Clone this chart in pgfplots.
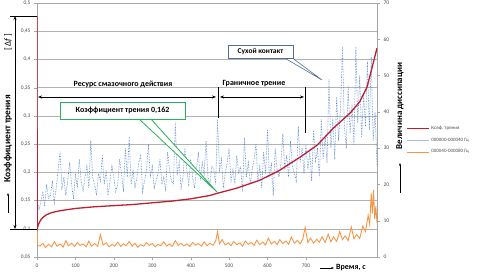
\documentclass[border=0pt]{standalone}
\usepackage{pgfplots}
\pgfplotsset{compat=1.18}
\usepackage{fontspec}
\setmainfont{Carlito}
\usetikzlibrary{arrows.meta}
\definecolor{redc}{RGB}{190,30,50}
\definecolor{bluec}{RGB}{75,125,200}
\definecolor{orangec}{RGB}{247,150,70}
\definecolor{greenc}{RGB}{40,175,90}
\definecolor{boxc}{RGB}{85,110,150}
\pgfplotsset{base/.style={at={(37bp,16bp)}, anchor=south west, scale only axis,
  width=340bp, height=254bp, xmin=0, xmax=885,
  /pgf/number format/assume math mode=true,
  ticklabel style={font=\fontsize{5.5}{6}\selectfont, text=black!70}}}
\begin{document}
\begin{tikzpicture}
\path[use as bounding box] (0,0) rectangle (483bp,273bp);
% axis 1: grid, left and bottom ticks
\begin{axis}[base, ymin=0.05, ymax=0.5,
  ytick={0.05,0.1,0.15,0.2,0.25,0.3,0.35,0.4,0.45,0.5},
  xtick={0,100,200,300,400,500,600,700},
  ymajorgrids, grid style={black!30, line width=0.5pt},
  axis line style={black!35}, tick style={black!35},
  tick align=outside, major tick length=3bp, tick pos=left,
  yticklabel style={/pgf/number format/.cd, use comma, fixed, precision=2}]
\addplot[draw=none] coordinates {(0,0.1)};
\end{axis}
% axis 2: right axis, dissipation
\begin{axis}[base, ymin=0, ymax=70, ytick={0,10,20,30,40,50,60,70},
  axis y line*=right, axis x line=none,
  axis line style={black!35}, tick style={black!35},
  tick align=outside, major tick length=3bp]
\addplot[bluec, line width=0.6pt, densely dotted] coordinates {
(0,16)(5,13)(10,15)(15,18)(20,14)(25,20)(30,16)(35,17)(40,21)(45,15)(50,19)(55,24)(60,29)(65,19)(70,22)(75,17)(80,21)(85,26)(90,20)(95,16)
(100,23)(105,19)(110,27)(115,21)(120,18)(125,22)(130,25)(135,19)(140,32)(145,22)(150,20)(155,17)(160,23)(165,21)(170,28)(175,20)(180,24)(185,17)(190,21)(195,25)
(200,22)(205,18)(210,20)(215,27)(220,23)(225,18)(230,30)(235,22)(240,33)(245,20)(250,24)(255,19)(260,22)(265,26)(270,28)(275,18)(280,21)(285,24)(290,31)(295,22)
(300,25)(305,19)(310,21)(315,23)(320,27)(325,20)(330,22)(335,18)(340,29)(345,24)(350,21)(355,20)(360,37)(365,23)(370,26)(375,19)(380,22)(385,30)(390,24)(395,20)
(400,27)(405,22)(410,19)(415,24)(420,29)(425,21)(430,26)(435,23)(440,32)(445,22)(450,20)(455,25)(460,24)(465,20)(470,38)(475,24)(480,27)(485,19)(490,23)(495,26)
(500,30)(505,21)(510,24)(515,20)(520,28)(525,23)(530,25)(535,18)(540,33)(545,22)(550,26)(555,20)(560,24)(565,27)(570,31)(575,21)(580,25)(585,19)(590,29)(595,23)
(600,35)(605,22)(610,26)(615,17)(620,30)(625,24)(630,22)(635,26)(640,34)(645,24)(650,28)(655,22)(660,32)(665,25)(670,23)(675,21)(680,36)(685,26)(690,30)(695,23)
(700,31)(705,24)(710,29)(715,21)(720,35)(725,26)(730,30)(735,22)(740,38)(745,27)(750,33)(755,26)(760,49)(765,30)(770,38)(775,27)(780,44)(785,32)(790,41)(795,58)
(800,36)(805,30)(810,47)(815,34)(820,42)(825,31)(830,58)(835,37)(840,50)(845,33)(850,45)(855,36)(860,54)(865,35)(870,55)(875,32)(880,40)(885,25)};
\addplot[orangec, line width=0.9pt] coordinates {
(0,7.5)(2,3.2)(8,3.0)(15,3.8)(22,2.6)(30,3.5)(38,2.8)(45,4.2)(52,3.0)(60,3.6)(68,2.7)(75,4.5)(82,3.1)(90,3.8)(98,2.9)
(105,4.0)(112,3.2)(120,3.6)(128,2.8)(135,4.4)(142,3.0)(150,3.7)(158,2.9)(165,6.2)(172,3.3)(180,3.9)(188,2.8)(195,3.5)
(202,3.0)(210,4.1)(218,2.9)(225,3.6)(232,3.1)(240,4.3)(248,3.0)(255,3.8)(262,2.7)(270,3.4)(278,3.0)(285,4.0)(292,3.2)
(300,3.7)(308,2.8)(315,3.5)(322,3.1)(330,4.2)(338,3.0)(345,3.6)(352,2.9)(360,4.5)(368,3.2)(375,3.8)(382,3.0)(390,3.6)(398,2.9)
(405,4.0)(412,3.3)(420,3.7)(428,3.0)(435,4.2)(442,3.1)(450,3.8)(458,3.2)(465,4.4)(470,7.0)(475,3.6)(482,4.8)(490,3.3)(498,3.9)
(505,3.1)(512,4.3)(520,3.4)(528,3.9)(535,3.0)(542,4.4)(550,3.5)(558,4.0)(565,3.2)(572,4.6)(580,3.4)(588,4.1)(595,3.3)
(602,5.2)(610,3.6)(618,4.3)(625,3.4)(632,4.8)(640,3.7)(648,4.4)(655,3.5)(662,5.5)(670,3.8)(678,4.6)(685,3.6)(692,5.0)(698,8.2)
(705,4.0)(712,5.2)(720,3.8)(728,4.9)(735,4.1)(742,5.6)(750,4.0)(758,6.3)(765,4.2)(772,5.5)(780,4.3)(788,7.0)(795,4.8)
(802,5.8)(810,4.5)(818,8.3)(825,5.0)(832,6.2)(840,5.1)(848,8.5)(855,7.0)(862,11.5)(866,9.0)(870,17.5)(873,12.0)(876,18.5)(879,10.5)(882,14.0)(885,9.4)};
\end{axis}
% axis 3: friction coefficient and legend
\begin{axis}[base, ymin=0.05, ymax=0.5, hide axis,
  legend style={at={(1.085,0.46)}, anchor=west, draw=none, fill=none,
    font=\fontsize{5}{6}\selectfont, text=black!70, row sep=3bp,
    inner sep=0pt, cells={anchor=west}},
  legend image code/.code={\draw[#1] (0bp,0bp) -- (22bp,0bp);}]
\addplot[redc, line width=1.3pt] coordinates {
(0,0.477)(0.5,0.10)(3,0.106)(6,0.111)(10,0.116)(15,0.12)(25,0.125)(40,0.129)(60,0.132)(100,0.136)(150,0.139)(200,0.141)
(250,0.143)(300,0.146)(350,0.149)(400,0.153)(450,0.159)(470,0.163)(520,0.172)(580,0.186)(630,0.203)(685,0.227)(729,0.248)
(771,0.278)(815,0.305)(840,0.325)(859,0.351)(872,0.385)(885,0.42)};
\addlegendentry{Коэф. трения}
\addlegendimage{bluec!50, line width=0.8pt}
\addlegendentry{000000-000040 Гц}
\addlegendimage{orangec, line width=0.8pt}
\addlegendentry{000040-000080 Гц}
\end{axis}
% annotations
\draw[black, line width=0.7pt] (10bp,257bp) -- (37bp,257bp);
\draw[black, line width=0.7pt] (10bp,44bp) -- (37bp,44bp);
\draw[black, line width=0.6pt, {Stealth[length=4bp]}-{Stealth[length=4bp]}] (15bp,257bp) -- (15bp,44bp);
\node[rotate=90, font=\fontsize{9.5}{10}\selectfont\bfseries] at (8bp,134bp) {Коэффициент трения};
\draw[black, line width=0.7pt, -{Stealth[length=3bp]}] (8bp,60bp) -- (8bp,80bp);
\node[rotate=90, font=\fontsize{9}{10}\selectfont] at (8bp,231bp) {[\,Δ\textit{f}\,]};
\node[rotate=90, font=\fontsize{9}{10}\selectfont\bfseries] at (400bp,167bp) {Величина диссипации};
\draw[black, line width=0.7pt, -{Stealth[length=3bp]}] (400bp,80bp) -- (400bp,110bp);
\draw[black, line width=0.7pt, -{Stealth[length=3bp]}] (320bp,5bp) -- (334bp,5bp);
\node[anchor=west, font=\fontsize{8}{8}\selectfont\bfseries, inner sep=0pt] at (336bp,5bp) {Время, с};
% lubrication resource
\node[font=\fontsize{8}{9}\selectfont\bfseries] at (123bp,189bp) {Ресурс смазочного действия};
\draw[black, line width=0.7pt, {Stealth[length=4bp]}-{Stealth[length=4bp]}] (38bp,176bp) -- (216bp,176bp);
\node[font=\fontsize{8}{9}\selectfont\bfseries] at (254bp,189bp) {Граничное трение};
\draw[black, line width=0.7pt, {Stealth[length=4bp]}-{Stealth[length=4bp]}] (220bp,176bp) -- (304bp,176bp);
\draw[black, line width=0.8pt] (218bp,186bp) -- (218bp,155bp);
\draw[black, line width=0.8pt] (305bp,186bp) -- (305bp,140bp);
% dry contact callout
\draw[boxc, line width=0.6pt, fill=white] (283bp,216bp) -- (322bp,193bp) -- (291bp,216bp);
\node[draw=boxc, line width=0.8pt, fill=white, minimum width=65bp, minimum height=13bp, inner sep=1bp,
  font=\fontsize{7.5}{8}\selectfont\bfseries] at (260.5bp,221.5bp) {Сухой контакт};
% friction coefficient callout
\draw[greenc, line width=0.8pt, fill=white] (138bp,155bp) -- (217bp,81bp) -- (150bp,155bp);
\node[draw=greenc, line width=0.9pt, fill=white, minimum width=125bp, minimum height=17bp, inner sep=1bp,
  font=\fontsize{8}{9}\selectfont\bfseries] at (122.5bp,162.5bp) {Коэффициент трения 0,162};
\end{tikzpicture}
\end{document}
